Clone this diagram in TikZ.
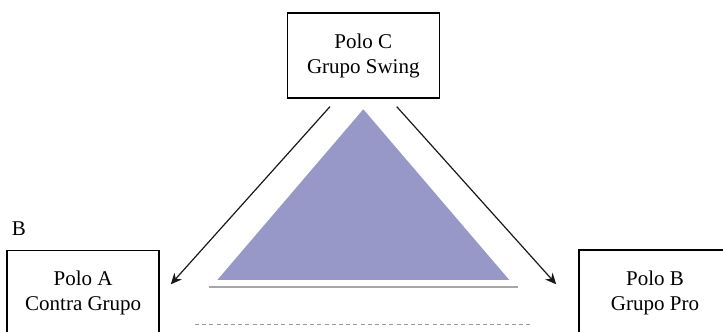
\documentclass[tikz,border=0pt]{standalone}
\usepackage{fontspec}
\setmainfont{Liberation Serif}
\newfontfamily\tiempos{Liberation Serif}
\usepackage{tikz}
\usetikzlibrary{arrows.meta,positioning,calc}

\tikzset{
    polo/.style={draw,thick,minimum width=76pt,minimum height=42.5pt,align=center,inner sep=0pt},
    flecha/.style={-{Stealth[length=5.5pt,width=5pt]},semithick,black!90}
}

\begin{document}
\begin{tikzpicture}[x=0.5pt,y=0.5pt,font=\tiempos\fontsize{10.5}{12.5}\selectfont]
    \clip (0,0) rectangle (723,332);
    \fill[white] (0,0) rectangle (723,332);
    % polos
    \node[polo] (C) at (363.3,276.2) {Polo C\\Grupo Swing};
    \node[polo] (A) at (83.2,38.8) {Polo A\\Contra Grupo};
    \node[polo] (B) at (655,39.5) {Polo B\\Grupo Pro};
    \node (etiq) at (18.8,103.5) {B};
    % triangulo
    \fill[fill={rgb,255:red,151;green,151;blue,200}] (217.3,52) -- (509.3,52) -- (363.3,222.7) -- cycle;
    \draw[line width=1pt,gray!70] (209,45.3) -- (517.6,45.3);
    \draw[gray!80,dash pattern=on 2pt off 1.6pt] (195,7.7) -- (531.5,7.7);
    % flechas
    \draw[flecha] ($(C.south)+(-33.3,-7.5)$) -- ($(A.east)+(10.8,8.9)$);
    \draw[flecha] ($(C.south)+(33.4,-7.5)$) -- ($(B.west)+(-22,8.2)$);
\end{tikzpicture}
\end{document}
